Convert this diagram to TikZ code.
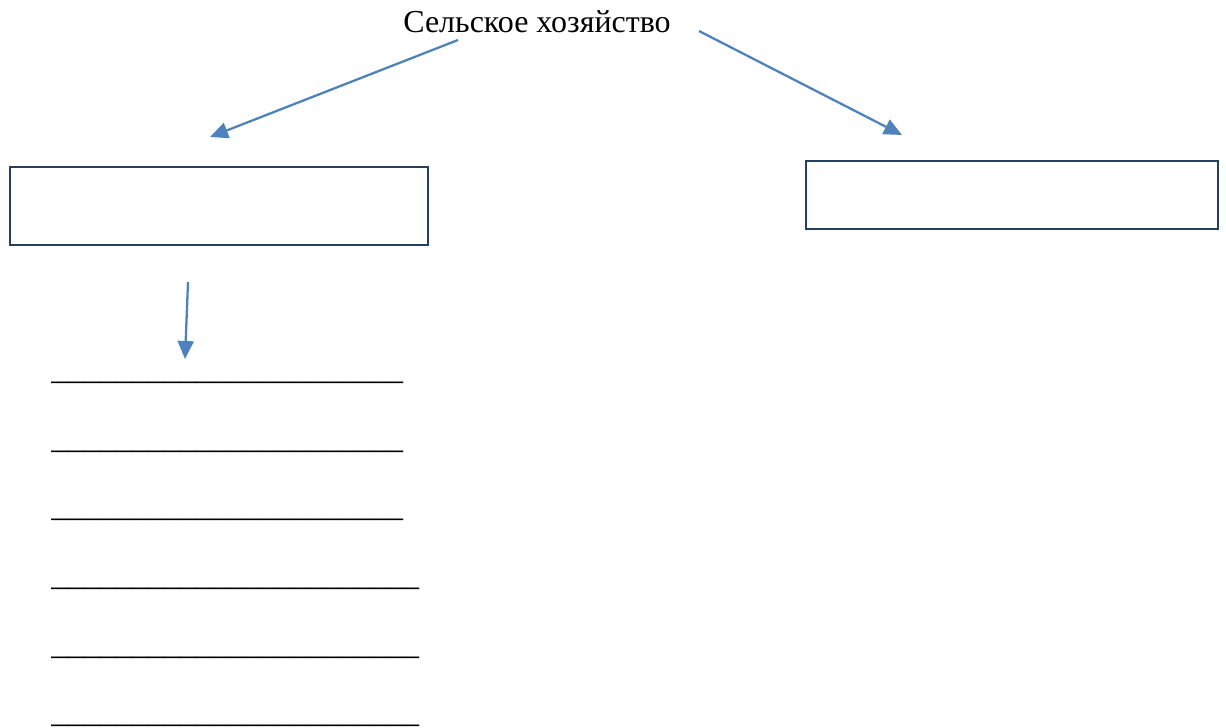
\documentclass[tikz,border=0pt]{standalone}
\usepackage{fontspec}
\setmainfont{Liberation Serif}
\usetikzlibrary{arrows.meta}
\definecolor{arrowblue}{HTML}{4F81BD}
\definecolor{boxnavy}{HTML}{243F60}
\tikzset{
  conn/.style={draw=arrowblue, line width=1.3pt, -{Triangle[length=0.36cm,width=0.32cm]}},
  emptybox/.style={draw=boxnavy, line width=1.4pt, fill=white, inner sep=0pt},
  title/.style={font=\fontsize{18.2}{22}\selectfont, inner sep=0pt},
  blank/.style={font=\fontsize{18.2}{22}\selectfont, inner sep=0pt, anchor=base west},
}
\begin{document}
\begin{tikzpicture}[x=0.02cm,y=-0.02cm]
  \useasboundingbox (0,0) rectangle (1226,727);

  \node[title] (head) at (537,22) {Сельское хозяйство};

  \node[emptybox, minimum width=8.36cm, minimum height=1.56cm] (leftbox) at (219,206) {};
  \node[emptybox, minimum width=8.24cm, minimum height=1.36cm] (rightbox) at (1012,195) {};

  \coordinate (headl) at (458,40);
  \coordinate (headr) at (699,31);
  \coordinate (endl) at (210,137);
  \coordinate (endr) at (902,135);
  \coordinate (downs) at (188,282);
  \coordinate (downe) at (185,359);

  \draw[conn] (headl) -- (endl);
  \draw[conn] (headr) -- (endr);
  \draw[conn] (downs) -- (downe);

  % lines to fill in
  \node[blank] (blank1) at (51,379) {\_\_\_\_\_\_\_\_\_\_\_\_\_\_\_\_\_\_\_\_\_\_};
  \node[blank] (blank2) at (51,448) {\_\_\_\_\_\_\_\_\_\_\_\_\_\_\_\_\_\_\_\_\_\_};
  \node[blank] (blank3) at (51,516) {\_\_\_\_\_\_\_\_\_\_\_\_\_\_\_\_\_\_\_\_\_\_};
  \node[blank] (blank4) at (51,585) {\_\_\_\_\_\_\_\_\_\_\_\_\_\_\_\_\_\_\_\_\_\_\_};
  \node[blank] (blank5) at (51,654) {\_\_\_\_\_\_\_\_\_\_\_\_\_\_\_\_\_\_\_\_\_\_\_};
  \node[blank] (blank6) at (51,722) {\_\_\_\_\_\_\_\_\_\_\_\_\_\_\_\_\_\_\_\_\_\_\_};
\end{tikzpicture}
\end{document}
